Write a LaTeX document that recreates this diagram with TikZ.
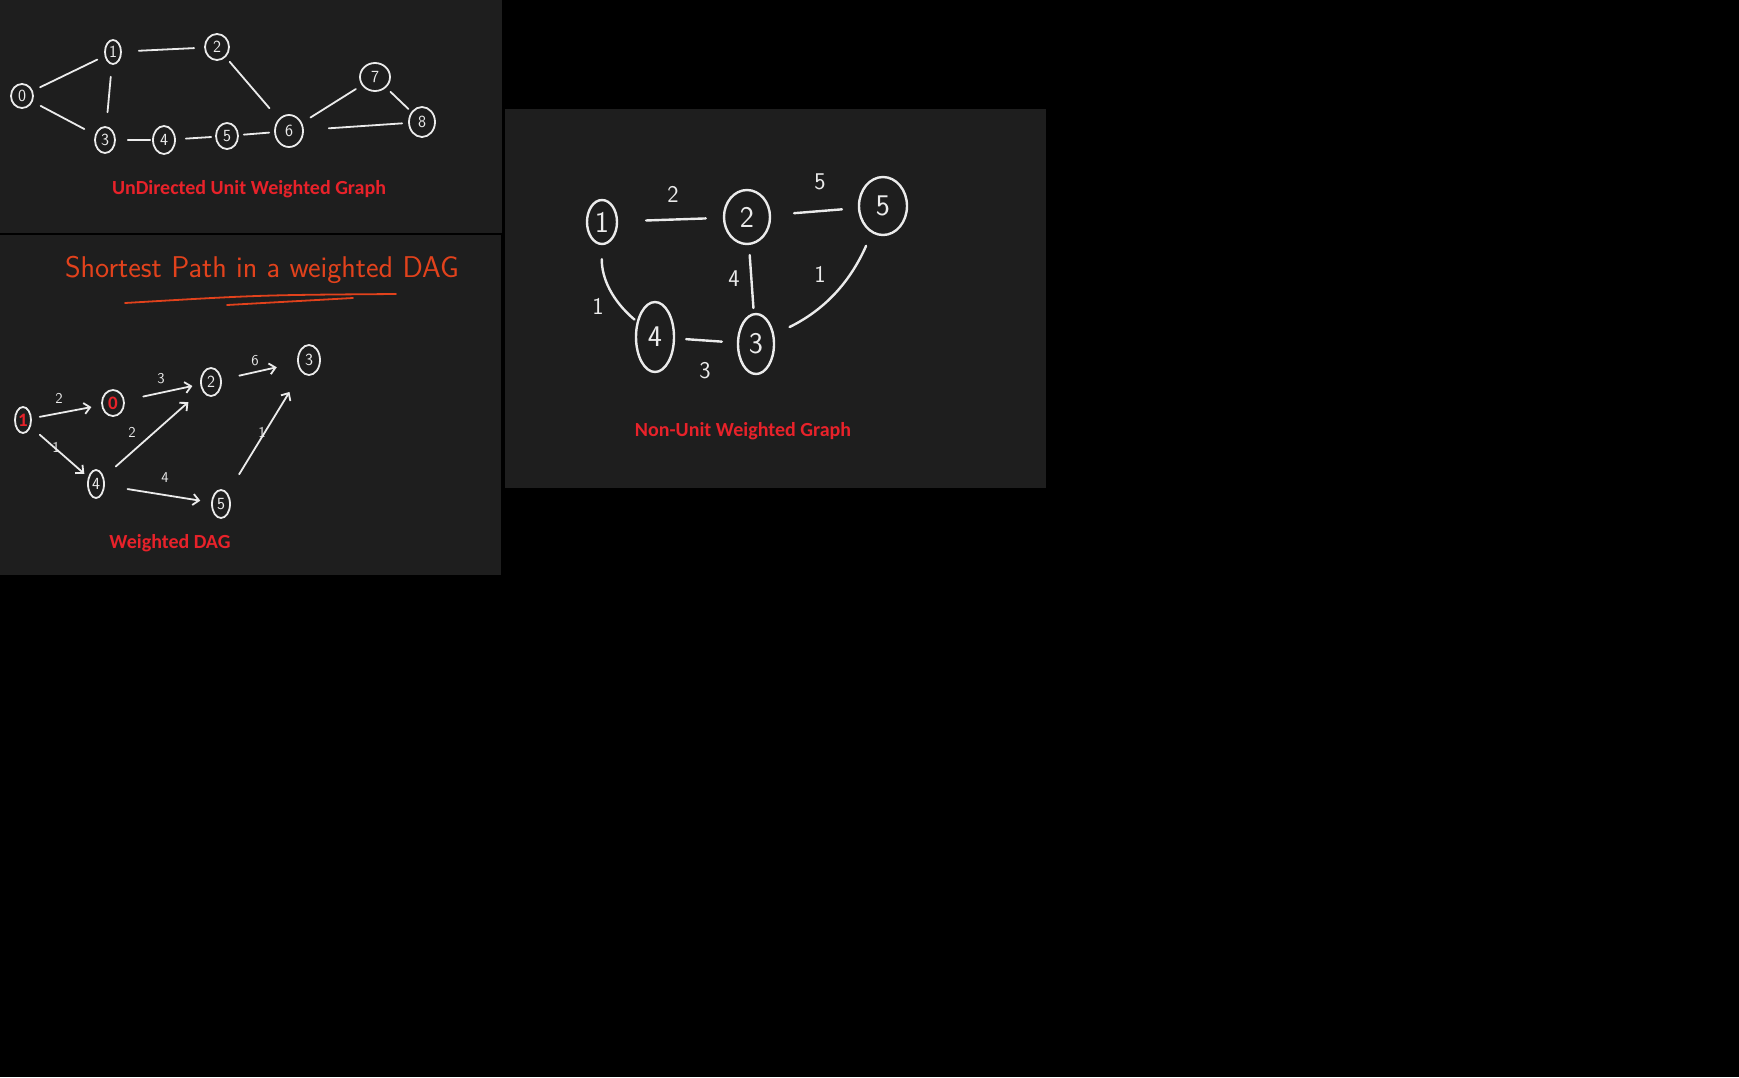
\documentclass[tikz,border=0pt]{standalone}
\usepackage{fontspec}
\usepackage{tikz}
\usetikzlibrary{shapes.geometric,arrows.meta}
\newfontfamily\capfont{Carlito}
\definecolor{board}{HTML}{1E1E1E}
\definecolor{capred}{HTML}{E8222A}
\definecolor{inkred}{HTML}{E2421C}
\definecolor{chalk}{HTML}{EBEBEB}

\begin{document}
\begin{tikzpicture}[x=1pt,y=-1pt,
  vtx/.style={ellipse,draw=chalk,line width=1.8pt,inner sep=0pt,text=chalk,
    font=\sffamily\fontsize{17}{17}\selectfont},
  big/.style={vtx,line width=2.4pt,font=\sffamily\fontsize{30}{30}\selectfont},
  sz/.style 2 args={minimum width=#1pt,minimum height=#2pt},
  link/.style={draw=chalk,line width=1.8pt,line cap=round,shorten <=8pt,shorten >=8pt},
  arc/.style={link,-{Straight Barb[length=6pt,width=11pt]}},
  wt/.style={text=chalk,inner sep=0pt,font=\sffamily\fontsize{15}{15}\selectfont},
  bigwt/.style={wt,font=\sffamily\fontsize{24}{24}\selectfont},
  caption/.style={text=capred,font=\capfont\bfseries\fontsize{20}{24}\selectfont}]
  % page and the three boards
  \useasboundingbox (0,0) rectangle (1739,1077);
  \fill[black] (0,0) rectangle (1739,1077);
  \fill[board] (0,0) rectangle (502,233);
  \fill[board] (0,235) rectangle (501,575);
  \fill[board] (505,109) rectangle (1046,488);

  % undirected unit weighted graph
  \node[vtx,sz={22}{24}] (u0) at (22,96) {0};
  \node[vtx,sz={16}{24}] (u1) at (113,52) {1};
  \node[vtx,sz={24}{26}] (u2) at (217,47) {2};
  \node[vtx,sz={20}{26}] (u3) at (105,140) {3};
  \node[vtx,sz={22}{28}] (u4) at (164,140) {4};
  \node[vtx,sz={22}{26}] (u5) at (227,136) {5};
  \node[vtx,sz={28}{32}] (u6) at (289,131) {6};
  \node[vtx,sz={30}{28}] (u7) at (375,77) {7};
  \node[vtx,sz={26}{30}] (u8) at (422,122) {8};
  \foreach \a/\b/\s/\e in {u0/u1/8/8,u1/u2/17/10,u1/u3/12/14,u0/u3/9/12,
                           u2/u6/6/14,u3/u4/12/2,u4/u5/10/4,u5/u6/5/5,
                           u6/u7/10/7,u7/u8/6/4,u6/u8/25/6}
    \draw[link,shorten <=\s pt,shorten >=\e pt] (\a) -- (\b);
  \node[caption] (cap1) at (249,189) {UnDirected Unit Weighted Graph};

  % weighted DAG
  \node[text=inkred,font=\sffamily\fontsize{30}{32}\selectfont] (hdr) at (262,270)
    {Shortest Path in a weighted DAG};
  \draw[inkred,line width=1.8pt,line cap=round] (125,303) .. controls (260,295) .. (396,294);
  \draw[inkred,line width=1.8pt,line cap=round] (227,305) -- (353,298);
  \node[vtx,sz={16}{26},text=capred,font=\capfont\bfseries\fontsize{19}{19}\selectfont] (d1) at (23,420) {1};
  \node[vtx,sz={22}{26},text=capred,font=\capfont\bfseries\fontsize{19}{19}\selectfont] (d0) at (113,403) {0};
  \node[vtx,sz={20}{28}] (d2) at (211,382) {2};
  \node[vtx,sz={22}{30}] (d3) at (309,360) {3};
  \node[vtx,sz={16}{28}] (d4) at (96,484) {4};
  \node[vtx,sz={18}{28}] (d5) at (221,504) {5};
  \foreach \a/\b/\s/\e in {d1/d0/8/10,d0/d2/19/8,d2/d3/18/21,d1/d4/12/5,
                           d4/d2/16/18,d4/d5/23/11,d5/d3/22/23}
    \draw[arc,shorten <=\s pt,shorten >=\e pt] (\a) -- (\b);
  \node[wt] (w10) at (59,398) {2};
  \node[wt] (w02) at (161,379) {3};
  \node[wt] (w23) at (255,361) {6};
  \node[wt] (w14) at (56,447) {1};
  \node[wt] (w42) at (132,432) {2};
  \node[wt] (w45) at (165,478) {4};
  \node[wt] (w53) at (262,432) {1};
  \node[caption] (cap2) at (170,543) {Weighted DAG};

  % non-unit weighted graph
  \node[big,sz={30}{44}] (n1) at (602,222) {1};
  \node[big,sz={46}{54}] (n2) at (747,217) {2};
  \node[big,sz={48}{58}] (n5) at (883,206) {5};
  \node[big,sz={38}{70}] (n4) at (655,337) {4};
  \node[big,sz={36}{60}] (n3) at (756,344) {3};
  \draw[link,line width=2.4pt,shorten <=28pt,shorten >=17pt] (n1) -- (n2);
  \draw[link,line width=2.4pt,shorten <=23pt,shorten >=16pt] (n2) -- (n5);
  \draw[link,line width=2.4pt,shorten <=10pt,shorten >=5pt] (n2) -- (n3);
  \draw[link,line width=2.4pt,shorten <=11pt,shorten >=15pt] (n4) -- (n3);
  \draw[link,line width=2.4pt,shorten <=14pt,shorten >=3pt] (n1) to[bend right=25] (n4);
  \draw[link,line width=2.4pt,shorten <=14pt,shorten >=17pt] (n5) to[bend left=20] (n3);
  \node[bigwt] (v12) at (673,194) {2};
  \node[bigwt] (v25) at (820,182) {5};
  \node[bigwt] (v23) at (734,279) {4};
  \node[bigwt] (v14) at (598,306) {1};
  \node[bigwt] (v43) at (705,371) {3};
  \node[bigwt] (v53) at (820,274) {1};
  \node[caption] (cap3) at (743,431) {Non-Unit Weighted Graph};
\end{tikzpicture}
\end{document}
